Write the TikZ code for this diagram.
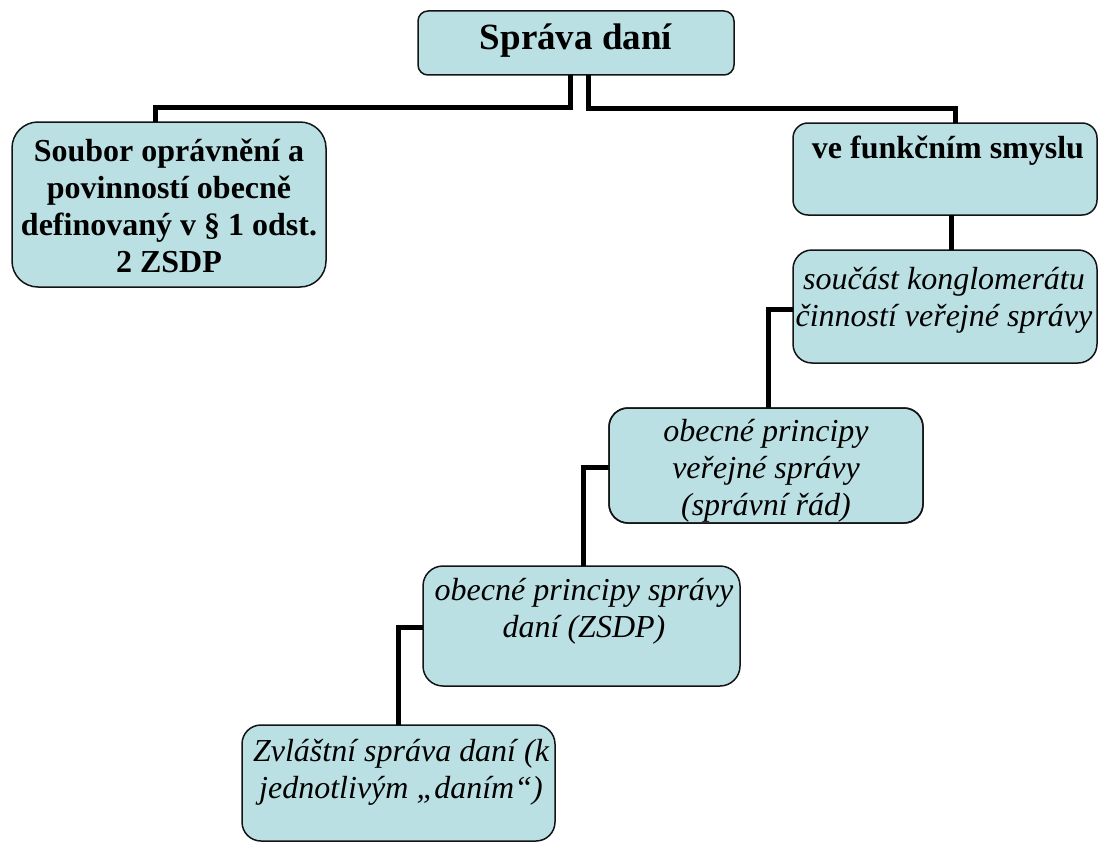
\documentclass[tikz,border=0pt]{standalone}
\usepackage{fontspec}
\setmainfont{Liberation Serif}
\definecolor{boxfill}{RGB}{187,224,227}
\definecolor{boxline}{RGB}{20,20,20}
\tikzset{
  box/.style={draw=boxline, line width=1.5pt, fill=boxfill, inner sep=0pt, outer sep=0pt, shape=rectangle},
  conn/.style={line width=5pt, draw=black, line join=miter},
  btext/.style={font=\fontsize{32}{37}\selectfont\bfseries, align=center, inner sep=0pt, anchor=base},
  itext/.style={font=\fontsize{32}{37}\selectfont\itshape, align=center, inner sep=0pt, anchor=base}
}
\begin{document}
\begin{tikzpicture}[x=1pt,y=-1pt]
\useasboundingbox (0,0) rectangle (1098,843);
% boxes
\node[box, rounded corners=10pt, minimum width=316pt, minimum height=64pt] (top) at (576,43) {};
\node[box, rounded corners=26pt, minimum width=314pt, minimum height=165pt] (left) at (169,204.5) {};
\node[box, rounded corners=15pt, minimum width=304pt, minimum height=92pt] (func) at (945,169) {};
\node[box, rounded corners=19pt, minimum width=304pt, minimum height=113pt] (soucast) at (945,306.5) {};
\node[box, rounded corners=19pt, minimum width=314pt, minimum height=115pt] (verejne) at (766,465.5) {};
\node[box, rounded corners=20pt, minimum width=317pt, minimum height=120pt] (zsdp) at (581.5,626) {};
\node[box, rounded corners=19pt, minimum width=313pt, minimum height=116pt] (zvl) at (398.5,783) {};
% connectors
\draw[conn] ([xshift=-6pt]top.south) -- ++(0,32) -| ([xshift=-14pt]left.north);
\draw[conn] ([xshift=12pt]top.south) -- ++(0,33) -| ([xshift=10pt]func.north);
\draw[conn] ([xshift=6pt]func.south) -- ([xshift=6pt]soucast.north);
\draw[conn] ([yshift=-2.5pt]soucast.west) -| ([xshift=2pt]verejne.north);
\draw[conn] ([yshift=-1.5pt]verejne.west) -| ([xshift=1.5pt]zsdp.north);
\draw[conn] ([yshift=-1pt]zsdp.west) -| (zvl.north);
% texts (anchor base = baseline of the last line)
\node[btext, font=\fontsize{37}{42}\selectfont\bfseries] (ttop) at (576,50) {Správa daní};
\node[btext] (tleft) at (169,272) {Soubor oprávnění a\\povinností obecně\\definovaný v § 1 odst.\\2 ZSDP};
\node[btext] (tfunc) at (948,158) {ve funkčním smyslu};
\node[itext] (tsoucast) at (944,326) {součást konglomerátu\\činností veřejné správy};
\begin{scope}
\clip[rounded corners=19pt] (verejne.south west) rectangle (verejne.north east);
\node[itext] (tverejne) at (766,515) {obecné principy\\veřejné správy\\(správní řád)};
\end{scope}
\draw[boxline, line width=1.5pt, rounded corners=19pt] (verejne.south west) rectangle (verejne.north east);
\node[itext] (tzsdp) at (584,637) {obecné principy správy\\daní (ZSDP)};
\node[itext] (tzvl) at (401,798) {Zvláštní správa daní (k\\jednotlivým „daním“)};
\end{tikzpicture}
\end{document}
